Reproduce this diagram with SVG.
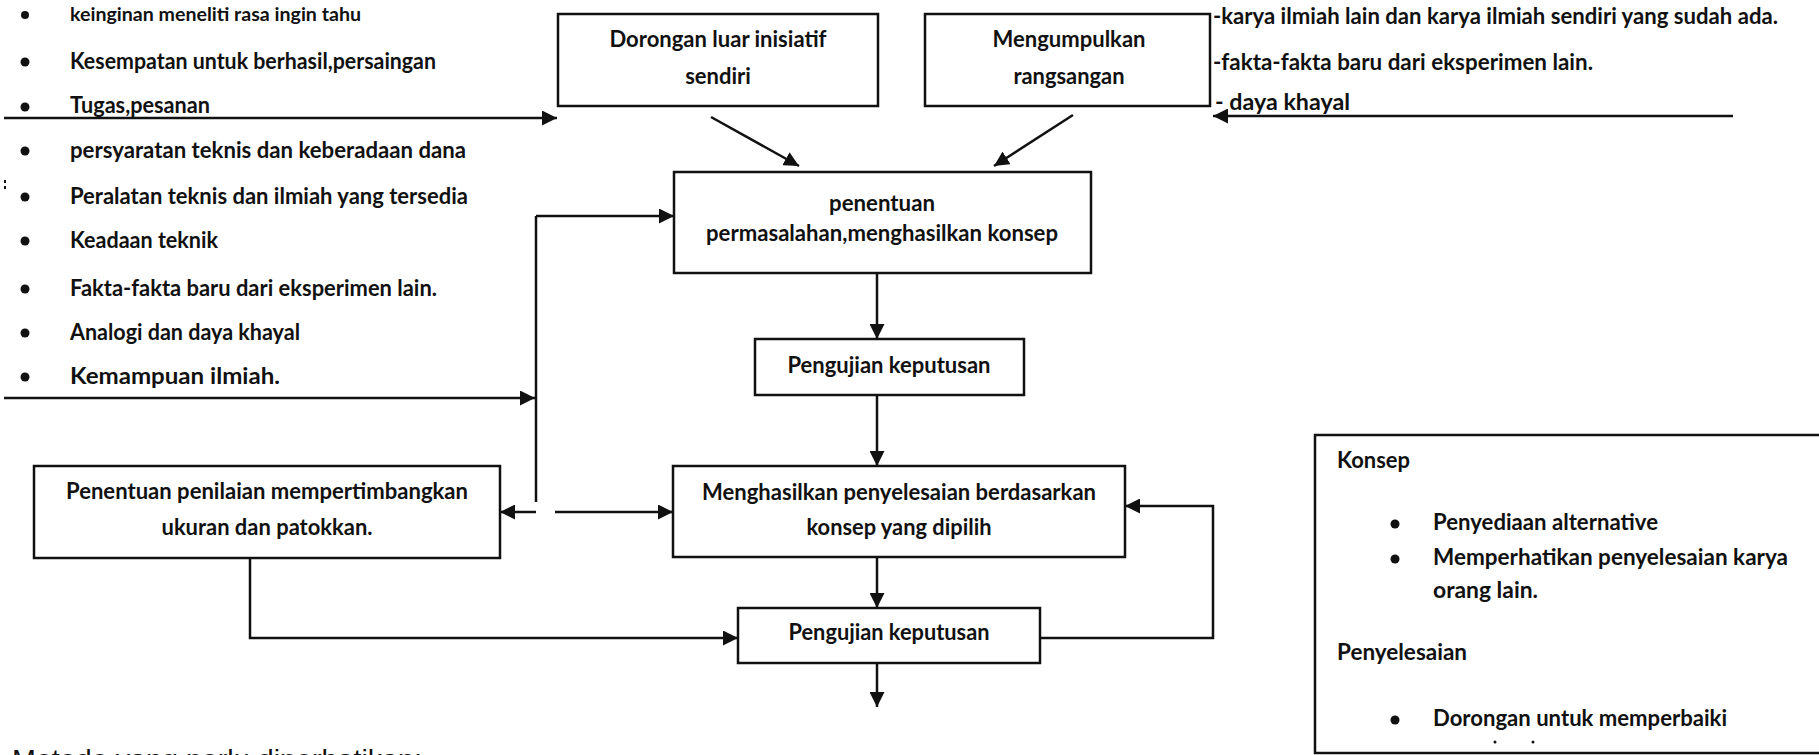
<svg xmlns="http://www.w3.org/2000/svg" width="1819" height="755" viewBox="0 0 1819 755">
  <style>
    .box { fill: #ffffff; stroke: #111111; stroke-width: 2.5; }
    .t { font-family: Lato, "Open Sans", "DejaVu Sans", sans-serif; font-weight: bold; font-size: 22px; fill: #111111; }
    .s { font-size: 18px; }
    .c { text-anchor: middle; }
    .bul { fill: #111111; }
    .ln { fill: none; stroke: #111111; stroke-width: 2.5; }
    .arr { fill: none; stroke: #111111; stroke-width: 2.5; marker-end: url(#ah); }
    .plain { font-family: "Liberation Sans", Arial, sans-serif; font-size: 28px; fill: #111111; }
  </style>
  <defs>
    <marker id="ah" markerUnits="userSpaceOnUse" markerWidth="16" markerHeight="15" refX="15" refY="7.5" orient="auto">
      <path d="M0,0 L15,7.5 L0,15 z" fill="#111111"/>
    </marker>
  </defs>

  <rect width="1819" height="755" fill="#ffffff"/>

  <!-- left list of inputs -->
  <g id="left-list">
    <circle class="bul" cx="25" cy="15" r="4"/>
    <text class="t s" x="70" y="21" textLength="291" lengthAdjust="spacingAndGlyphs">keinginan meneliti rasa ingin tahu</text>
    <circle class="bul" cx="25" cy="62" r="4.5"/>
    <text class="t" x="70" y="69" textLength="366" lengthAdjust="spacingAndGlyphs">Kesempatan untuk berhasil,persaingan</text>
    <circle class="bul" cx="25" cy="107" r="4.5"/>
    <text class="t" x="70" y="113" textLength="140" lengthAdjust="spacingAndGlyphs">Tugas,pesanan</text>
    <circle class="bul" cx="25" cy="151" r="4.5"/>
    <text class="t" x="70" y="158" textLength="396" lengthAdjust="spacingAndGlyphs">persyaratan teknis dan keberadaan dana</text>
    <circle class="bul" cx="25" cy="197" r="4.5"/>
    <text class="t" x="70" y="204" textLength="398" lengthAdjust="spacingAndGlyphs">Peralatan teknis dan ilmiah yang tersedia</text>
    <circle class="bul" cx="25" cy="241" r="4.5"/>
    <text class="t" x="70" y="248" textLength="148" lengthAdjust="spacingAndGlyphs">Keadaan teknik</text>
    <circle class="bul" cx="25" cy="289" r="4.5"/>
    <text class="t" x="70" y="296" textLength="367" lengthAdjust="spacingAndGlyphs">Fakta-fakta baru dari eksperimen lain.</text>
    <circle class="bul" cx="25" cy="333" r="4.5"/>
    <text class="t" x="70" y="340" textLength="230" lengthAdjust="spacingAndGlyphs">Analogi dan daya khayal</text>
    <circle class="bul" cx="25" cy="377" r="4.5"/>
    <text class="t" x="70" y="384" textLength="210" lengthAdjust="spacingAndGlyphs">Kemampuan ilmiah.</text>
    <rect x="4" y="180" width="2" height="3" fill="#111111"/>
    <rect x="4" y="186" width="2" height="3" fill="#111111"/>
  </g>

  <!-- right list of inputs -->
  <g id="right-list">
    <text class="t" x="1213" y="24" textLength="565" lengthAdjust="spacingAndGlyphs">-karya ilmiah lain dan karya ilmiah sendiri yang sudah ada.</text>
    <text class="t" x="1213" y="70" textLength="380" lengthAdjust="spacingAndGlyphs">-fakta-fakta baru dari eksperimen lain.</text>
    <text class="t" x="1215" y="110" textLength="135" lengthAdjust="spacingAndGlyphs">- daya khayal</text>
  </g>

  <g id="dorongan">
    <rect class="box" x="558" y="14" width="320" height="92"/>
    <text class="t c" x="718" y="47" textLength="217" lengthAdjust="spacingAndGlyphs">Dorongan luar inisiatif</text>
    <text class="t c" x="718" y="84">sendiri</text>
  </g>

  <g id="mengumpulkan">
    <rect class="box" x="925" y="14" width="285" height="92"/>
    <text class="t c" x="1069" y="47" textLength="153" lengthAdjust="spacingAndGlyphs">Mengumpulkan</text>
    <text class="t c" x="1069" y="84" textLength="111" lengthAdjust="spacingAndGlyphs">rangsangan</text>
  </g>

  <g id="penentuan-permasalahan">
    <rect class="box" x="674" y="172" width="417" height="101"/>
    <text class="t c" x="882" y="211" textLength="106" lengthAdjust="spacingAndGlyphs">penentuan</text>
    <text class="t c" x="882" y="241" textLength="352" lengthAdjust="spacingAndGlyphs">permasalahan,menghasilkan konsep</text>
  </g>

  <g id="pengujian-1">
    <rect class="box" x="755" y="339" width="269" height="56"/>
    <text class="t c" x="889" y="373" textLength="203" lengthAdjust="spacingAndGlyphs">Pengujian keputusan</text>
  </g>

  <g id="menghasilkan-penyelesaian">
    <rect class="box" x="673" y="466" width="452" height="91"/>
    <text class="t c" x="899" y="500" textLength="394" lengthAdjust="spacingAndGlyphs">Menghasilkan penyelesaian berdasarkan</text>
    <text class="t c" x="899" y="535" textLength="185" lengthAdjust="spacingAndGlyphs">konsep yang dipilih</text>
  </g>

  <g id="pengujian-2">
    <rect class="box" x="738" y="608" width="302" height="55"/>
    <text class="t c" x="889" y="640" textLength="201" lengthAdjust="spacingAndGlyphs">Pengujian keputusan</text>
  </g>

  <g id="penentuan-penilaian">
    <rect class="box" x="34" y="466" width="466" height="92"/>
    <text class="t c" x="267" y="499" textLength="402" lengthAdjust="spacingAndGlyphs">Penentuan penilaian mempertimbangkan</text>
    <text class="t c" x="267" y="535" textLength="211" lengthAdjust="spacingAndGlyphs">ukuran dan patokkan.</text>
  </g>

  <g id="keterangan">
    <rect class="box" x="1315" y="435" width="530" height="318"/>
    <text class="t" x="1337" y="468" textLength="73" lengthAdjust="spacingAndGlyphs">Konsep</text>
    <circle class="bul" cx="1395" cy="524" r="4.5"/>
    <text class="t" x="1433" y="530" textLength="225" lengthAdjust="spacingAndGlyphs">Penyediaan alternative</text>
    <circle class="bul" cx="1395" cy="559" r="4.5"/>
    <text class="t" x="1433" y="565" textLength="355" lengthAdjust="spacingAndGlyphs">Memperhatikan  penyelesaian karya</text>
    <text class="t" x="1433" y="598" textLength="105" lengthAdjust="spacingAndGlyphs">orang lain.</text>
    <text class="t" x="1337" y="660" textLength="130" lengthAdjust="spacingAndGlyphs">Penyelesaian</text>
    <circle class="bul" cx="1395" cy="720" r="4.5"/>
    <text class="t" x="1433" y="726" textLength="294" lengthAdjust="spacingAndGlyphs">Dorongan untuk memperbaiki</text>
    <circle class="bul" cx="1495" cy="742" r="1.5"/>
    <circle class="bul" cx="1533" cy="742" r="1.5"/>
  </g>

  <text class="plain" x="12" y="769" textLength="410" lengthAdjust="spacingAndGlyphs">Metode yang perlu diperhatikan:</text>

  <!-- connectors -->
  <g id="connectors">
    <line class="arr" x1="4" y1="118" x2="557" y2="118"/>
    <line class="arr" x1="1733" y1="116" x2="1213" y2="116"/>
    <line class="arr" x1="711" y1="117" x2="799" y2="166"/>
    <line class="arr" x1="1073" y1="115" x2="994" y2="166"/>
    <line class="arr" x1="4" y1="398" x2="535" y2="398"/>
    <line class="ln" x1="536" y1="216" x2="536" y2="502"/>
    <line class="arr" x1="536" y1="216" x2="674" y2="216"/>
    <line class="arr" x1="536" y1="512" x2="500" y2="512"/>
    <line class="arr" x1="555" y1="512" x2="673" y2="512"/>
    <line class="arr" x1="877" y1="274" x2="877" y2="339"/>
    <line class="arr" x1="877" y1="395" x2="877" y2="466"/>
    <line class="arr" x1="877" y1="557" x2="877" y2="608"/>
    <line class="arr" x1="877" y1="663" x2="877" y2="707"/>
    <polyline class="arr" points="250,558 250,638 738,638"/>
    <polyline class="arr" points="1040,638 1213,638 1213,506 1125,506"/>
  </g>
</svg>
